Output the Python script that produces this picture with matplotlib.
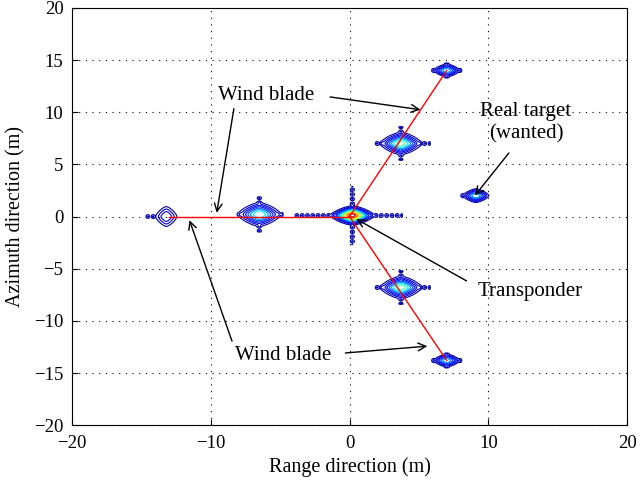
import numpy as np
import matplotlib
matplotlib.use("Agg")
import matplotlib.pyplot as plt

plt.rcParams['font.family'] = ['Liberation Serif', 'DejaVu Serif']

# scatterers: range (m), azimuth (m), relative amplitude
tgt_x = [0.2, 3.7, 3.7, 7.0, 7.0, -6.5, -13.2, 9.1]
tgt_y = [0.1, 7.0, -6.8, 14.0, -13.8, 0.2, 0.0, 2.0]
tgt_amp = [1.0, 0.5, 0.5, 0.35, 0.35, 0.45, 0.15, 0.35]
# blob spread (m) in range / azimuth
tgt_sx = [0.85, 0.9, 0.9, 0.6, 0.6, 0.95, 0.6, 0.6]
tgt_sy = [0.5, 0.65, 0.65, 0.4, 0.4, 0.7, 0.75, 0.42]
# sidelobe extent (m) left / right in range, and in azimuth
sl_left = [4.2, 1.9, 1.9, 1.1, 1.1, 1.6, 1.5, 1.1]
sl_right = [3.6, 2.1, 2.1, 1.1, 1.1, 1.7, 0.3, 0.8]
sl_az = [2.8, 1.6, 1.6, 0.7, 0.7, 1.7, 0.5, 0.6]

# contour levels on linear amplitude
levels = [0.03, 0.06, 0.1, 0.15, 0.21, 0.28, 0.36, 0.45, 0.55, 0.67, 0.8, 0.93]

# blade lines from the hub
blade_x = [[0, 7.0], [0, 7.0], [0, -13.0]]
blade_y = [[0, 14.0], [0, -13.8], [0, 0.0]]

period = 0.38
xg = np.linspace(-20, 20, 1400)
yg = np.linspace(-20, 20, 1400)
X, Y = np.meshgrid(xg, yg)
pw = np.zeros_like(X)
for i in range(len(tgt_x)):
    dx = X - tgt_x[i]
    dy = Y - tgt_y[i]
    a = tgt_amp[i]
    r = (np.abs(dx / tgt_sx[i]) ** 1.4 + np.abs(dy / tgt_sy[i]) ** 1.4) ** (1 / 1.4)
    main = a * np.exp(-r ** 2)
    rng_mask = (dx > -sl_left[i]) & (dx < sl_right[i]) & (np.abs(dx) > tgt_sx[i] * 1.1)
    rng = 0.065 * np.abs(np.sin(np.pi * dx / period)) * np.exp(-(dy / 0.2) ** 2) * rng_mask
    az_mask = (np.abs(dy) < sl_az[i]) & (np.abs(dy) > tgt_sy[i] * 1.1)
    az = 0.065 * np.abs(np.sin(np.pi * dy / 0.45)) * np.exp(-(dx / 0.17) ** 2) * az_mask
    pw += main ** 2 + rng ** 2 + az ** 2
amp = np.sqrt(pw)
amp = amp / amp.max()

fig = plt.figure(figsize=(6.42, 4.91), dpi=100)
ax = fig.add_axes([0.112, 0.134, 0.865, 0.85])

ax.contour(X, Y, amp, levels=levels, cmap='jet', vmin=0, vmax=1, linewidths=0.8)

for bx, by in zip(blade_x, blade_y):
    ax.plot(bx, by, color='red', lw=1.0)

ax.set_xlim(-20, 20)
ax.set_ylim(-20, 20)
ax.set_xticks([-20, -10, 0, 10, 20])
ax.set_yticks(np.arange(-20, 21, 5))
ax.tick_params(direction='in', labelsize=13.5, length=4, top=False, right=False)
ax.tick_params(axis='x', pad=7)
ax.tick_params(axis='y', pad=6)
ax.set_xticklabels(['\u221220', '\u221210', '0', '10', '20'])
ax.set_yticklabels(['\u221220', '\u221215', '\u221210', '\u22125', '0', '5', '10', '15', '20'])
ax.grid(True, color='black', linestyle=(0, (1, 5)), linewidth=0.8)
ax.set_xlabel('Range direction (m)', fontsize=14.5, labelpad=4)
ax.set_ylabel('Azimuth direction (m)', fontsize=14.5, labelpad=6)

arr = dict(arrowstyle='->', color='black', lw=1.0, mutation_scale=14)
ax.text(-6.0, 11.6, 'Wind blade', fontsize=15, ha='center', va='center')
ax.annotate('', xy=(5.3, 10.2), xytext=(-1.6, 11.5), arrowprops=arr)
ax.annotate('', xy=(-9.6, 0.1), xytext=(-8.3, 10.6), arrowprops=arr)

ax.text(-4.8, -13.3, 'Wind blade', fontsize=15, ha='center', va='center')
ax.annotate('', xy=(5.8, -12.4), xytext=(-0.5, -13.1), arrowprops=arr)
ax.annotate('', xy=(-11.6, -0.1), xytext=(-8.4, -12.2), arrowprops=arr)

ax.text(12.7, 9.0, 'Real target\n(wanted)', fontsize=15, ha='center', va='center')
ax.annotate('', xy=(8.9, 1.8), xytext=(11.6, 6.3), arrowprops=arr)

ax.text(13.0, -7.2, 'Transponder', fontsize=15, ha='center', va='center')
ax.annotate('', xy=(0.3, -0.1), xytext=(8.6, -6.3), arrowprops=arr)

fig.savefig('out.png', dpi=100)
